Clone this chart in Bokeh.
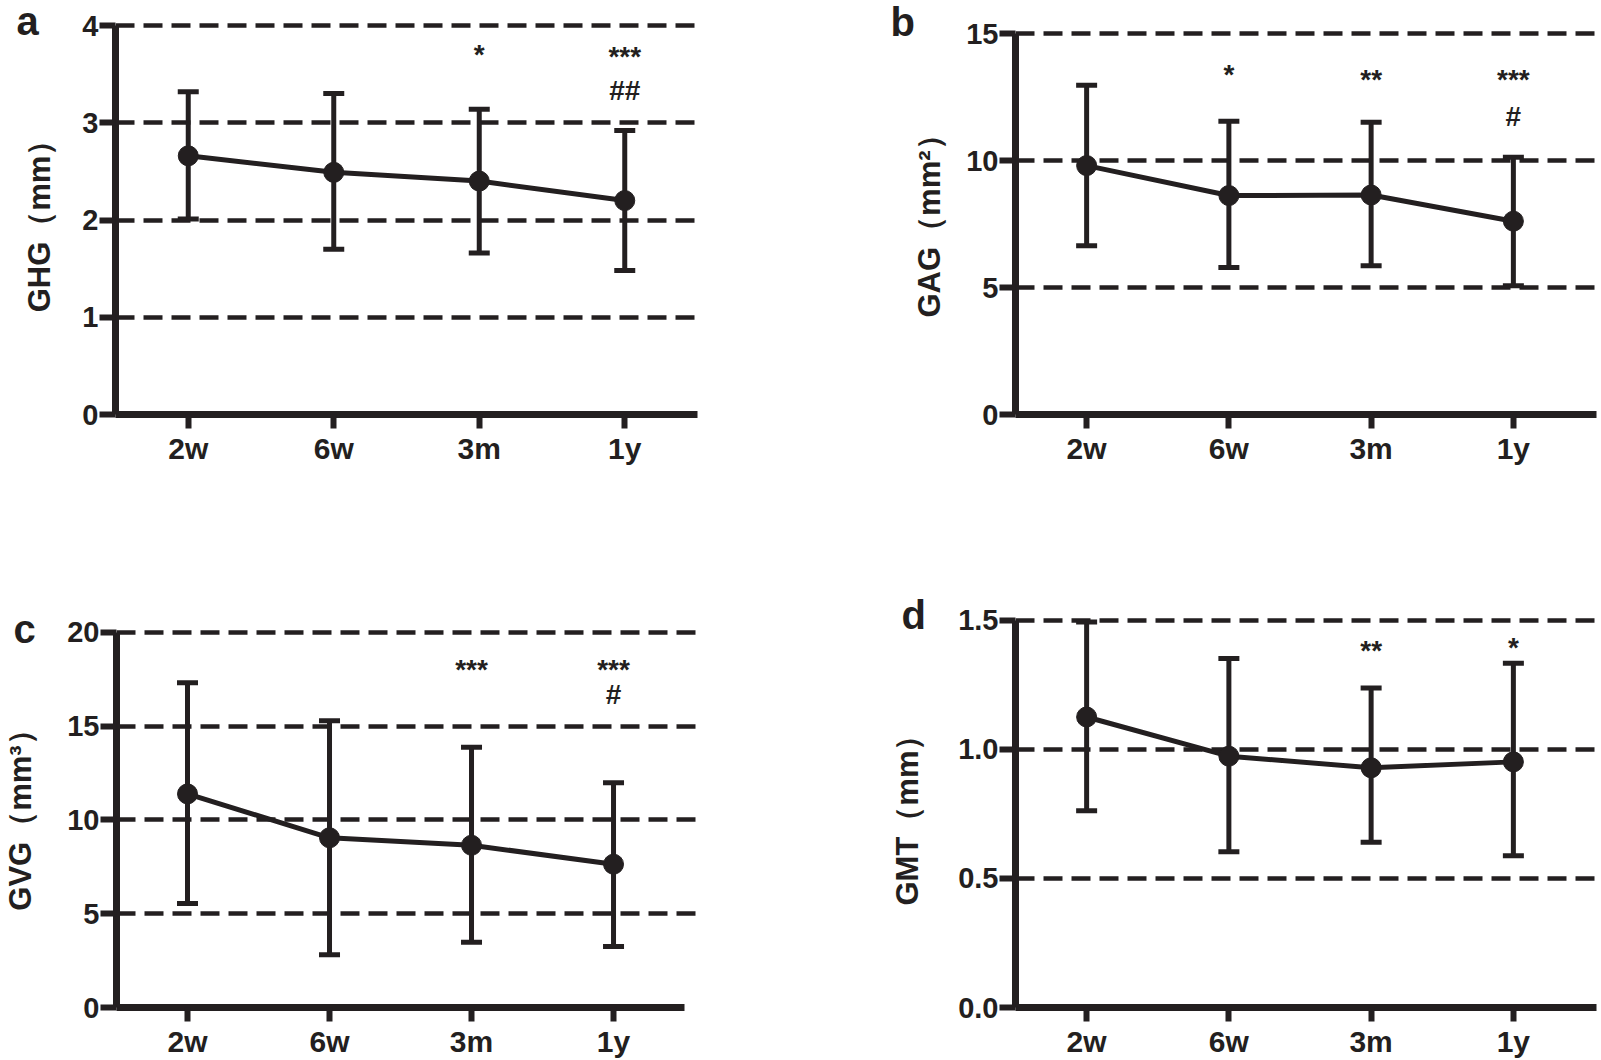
from bokeh.plotting import figure
from bokeh.layouts import column, row
from bokeh.models import (ColumnDataSource, Whisker, TeeHead, FixedTicker,
                          PrintfTickFormatter, Range1d, Title)
from bokeh.embed import file_html
from bokeh.resources import INLINE
from bokeh.core.properties import value

# ---------------- data ----------------
timepoints = ["2w", "6w", "3m", "1y"]

ghg_mean = [2.66, 2.49, 2.40, 2.20]
ghg_upper = [3.32, 3.30, 3.14, 2.92]
ghg_lower = [2.01, 1.70, 1.66, 1.48]
ghg_sig_text = ["*", "***", "##"]
ghg_sig_idx = [2, 3, 3]
ghg_sig_y = [3.70, 3.68, 3.335]

gag_mean = [9.80, 8.62, 8.64, 7.61]
gag_upper = [12.96, 11.55, 11.51, 10.13]
gag_lower = [6.64, 5.79, 5.86, 5.07]
gag_sig_text = ["*", "**", "***", "#"]
gag_sig_idx = [1, 2, 3, 3]
gag_sig_y = [13.39, 13.17, 13.17, 11.74]

gvg_mean = [11.39, 9.05, 8.65, 7.64]
gvg_upper = [17.31, 15.29, 13.88, 11.98]
gvg_lower = [5.54, 2.81, 3.48, 3.25]
gvg_sig_text = ["***", "***", "#"]
gvg_sig_idx = [2, 3, 3]
gvg_sig_y = [18.04, 18.04, 16.67]

gmt_mean = [1.126, 0.974, 0.929, 0.952]
gmt_upper = [1.494, 1.353, 1.238, 1.334]
gmt_lower = [0.763, 0.604, 0.640, 0.588]
gmt_sig_text = ["**", "*"]
gmt_sig_idx = [2, 3]
gmt_sig_y = [1.384, 1.395]

INK = "#231f20"
FONT = "Liberation Sans"


def panel(letter, ylabel, ymax, ystep, fmt, mean, upper, lower, sig_idx, sig_y, sig_text,
          fig_x, fig_y, fig_w, fig_h, frame_l, frame_r, frame_t, frame_b,
          ytop_px, x35_px, axis_end_px, letter_px, ylab_stand):
    """frame_* : page pixels of the plotting frame; ytop_px: page y of the top tick;
    x35_px: page x of the category-axis position 3.5; axis_end_px: where the x axis ends."""
    n = len(timepoints)
    ppu_y = (frame_b - ytop_px) / ymax
    y_end = (frame_b - frame_t) / ppu_y
    ppu_x = (x35_px - frame_l) / n
    x_end = -0.5 + (frame_r - frame_l) / ppu_x
    x_axis_end = -0.5 + (axis_end_px - frame_l) / ppu_x
    p = figure(width=fig_w, height=fig_h, output_backend="svg", toolbar_location=None,
               x_range=Range1d(-0.5, x_end), y_range=Range1d(0, y_end),
               min_border_left=int(round(frame_l - fig_x)),
               min_border_right=int(round(fig_x + fig_w - frame_r)),
               min_border_top=int(round(frame_t - fig_y)),
               min_border_bottom=int(round(fig_y + fig_h - frame_b)))
    p.outline_line_color = None
    p.background_fill_color = "white"
    p.border_fill_color = "white"
    p.xgrid.visible = False
    nsteps = int(round(ymax / ystep))
    p.ygrid.ticker = FixedTicker(ticks=[ystep * k for k in range(1, nsteps + 1)])
    p.ygrid.grid_line_color = INK
    p.ygrid.grid_line_width = 4.5
    p.ygrid.grid_line_dash = "19 9"
    p.ygrid.bounds = (-0.5, x_axis_end)

    for ax in (p.xaxis[0], p.yaxis[0]):
        ax.axis_line_width = 7
        ax.axis_line_color = INK
        ax.major_tick_line_width = 6
        ax.major_tick_line_color = INK
        ax.major_tick_in = 0
        ax.minor_tick_line_color = None
        ax.major_label_text_font = FONT
        ax.major_label_text_font_style = "bold"
        ax.major_label_text_color = INK

    p.yaxis.ticker = FixedTicker(ticks=[ystep * k for k in range(0, nsteps + 1)])
    p.yaxis.bounds = (0, ymax)
    p.yaxis.formatter = PrintfTickFormatter(format=fmt)
    p.yaxis.major_tick_out = 16
    p.yaxis.major_label_standoff = 1
    p.yaxis.major_label_text_font_size = "29px"
    p.yaxis.axis_label = ylabel
    p.yaxis.axis_label_text_font = FONT
    p.yaxis.axis_label_text_font_style = "bold"
    p.yaxis.axis_label_text_font_size = "31px"
    p.yaxis.axis_label_text_color = INK
    p.yaxis.axis_label_standoff = ylab_stand

    p.xaxis.ticker = FixedTicker(ticks=list(range(n)))
    p.xaxis.bounds = (-0.5, x_axis_end)
    p.xaxis.major_label_overrides = {i: t for i, t in enumerate(timepoints)}
    p.xaxis.major_tick_out = 14
    p.xaxis.major_label_standoff = 3
    p.xaxis.major_label_text_font_size = "30px"

    src = ColumnDataSource(dict(x=list(range(n)), mean=mean, upper=upper, lower=lower))
    w = Whisker(source=src, base="x", upper="upper", lower="lower",
                line_color=INK, line_width=5,
                upper_head=TeeHead(size=21, line_width=5, line_color=INK),
                lower_head=TeeHead(size=21, line_width=5, line_color=INK))
    p.add_layout(w)
    p.line("x", "mean", source=src, line_width=5, line_color=INK)
    p.scatter("x", "mean", source=src, size=20, fill_color=INK, line_color=INK)

    p.text(x=sig_idx, y=sig_y, text=sig_text, text_align="center",
           text_baseline="alphabetic", text_font=value(FONT),
           text_font_style="bold", text_font_size="28px", text_color=INK)

    # panel letter: a title pulled down beside the top of the y axis
    lcx, lbase, half = letter_px
    p.add_layout(Title(text=letter, align="left", vertical_align="bottom",
                       offset=lcx - frame_l - half,
                       standoff=-2 * (lbase + 8.5 - frame_t),
                       text_font=FONT, text_font_style="bold",
                       text_font_size="40px", text_color=INK), "above")
    return p


H1, H2 = 520, 540
pa = panel("a", "GHG（mm）", 4, 1, "%d", ghg_mean, ghg_upper, ghg_lower,
           ghg_sig_idx, ghg_sig_y, ghg_sig_text,
           0, 0, 800, H1, 115, 697, 22, 414, 25, 697, 697, (28, 34, 12), 22)
pb = panel("b", "GAG（mm²）", 15, 5, "%d", gag_mean, gag_upper, gag_lower,
           gag_sig_idx, gag_sig_y, gag_sig_text,
           800, 0, 801, H1, 1015, 1597, 22, 414, 33, 1584, 1596, (903, 35, 13), 16)
pc = panel("c", "GVG（mm³）", 20, 5, "%d", gvg_mean, gvg_upper, gvg_lower,
           gvg_sig_idx, gvg_sig_y, gvg_sig_text,
           0, H1, 800, H2, 115, 697, 617, 1009, 632, 684, 684, (24, 642, 12), 26)
pd_ = panel("d", "GMT（mm）", 1.5, 0.5, "%.1f", gmt_mean, gmt_upper, gmt_lower,
            gmt_sig_idx, gmt_sig_y, gmt_sig_text,
            800, H1, 801, H2, 1015, 1597, 617, 1009, 620, 1584, 1596, (914, 628, 13), 30)

layout = column(row(pa, pb), row(pc, pd_))
open("out.html", "w").write(file_html(layout, INLINE))
